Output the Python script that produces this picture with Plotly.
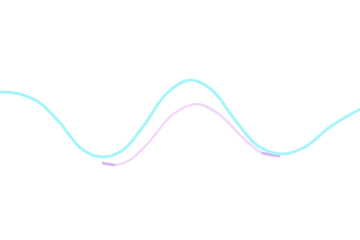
import plotly.graph_objects as go

# Cyan series (x position, value)
cyan_x = [0, 20, 40, 60, 83, 103, 123, 145, 167, 190, 212, 235, 258, 282, 305, 330, 360]
cyan_y = [148, 146, 137, 117, 90, 83, 90, 116, 147, 160, 150, 120, 94, 86, 93, 113, 131]

# Pink series
pink_x = [102, 115, 130, 150, 172, 197, 220, 242, 262, 280]
pink_y = [77, 75, 80, 99, 125, 136, 125, 103, 87, 84]

fig = go.Figure()

fig.add_trace(go.Scatter(
    x=pink_x, y=pink_y, mode="lines", line=dict(color="#f3d8fb", width=2.5, shape="spline"),
    hoverinfo="skip", showlegend=False))
# violet tint at the ends of the pink series
fig.add_trace(go.Scatter(
    x=pink_x[:2], y=pink_y[:2], mode="lines", line=dict(color="#b898f2", width=2.5, shape="spline"),
    opacity=0.55, hoverinfo="skip", showlegend=False))
fig.add_trace(go.Scatter(
    x=pink_x[-2:], y=pink_y[-2:], mode="lines", line=dict(color="#b898f2", width=2.5, shape="spline"),
    opacity=0.55, hoverinfo="skip", showlegend=False))

fig.add_trace(go.Scatter(
    x=cyan_x, y=cyan_y, mode="lines", line=dict(color="#a6f5f8", width=3, shape="spline"),
    hoverinfo="skip", showlegend=False))

fig.update_layout(
    width=360, height=240,
    margin=dict(l=0, r=0, t=0, b=0),
    paper_bgcolor="white", plot_bgcolor="white",
    xaxis=dict(range=[0, 360], visible=False),
    yaxis=dict(range=[0, 240], visible=False),
)

fig.write_html("out.html")
